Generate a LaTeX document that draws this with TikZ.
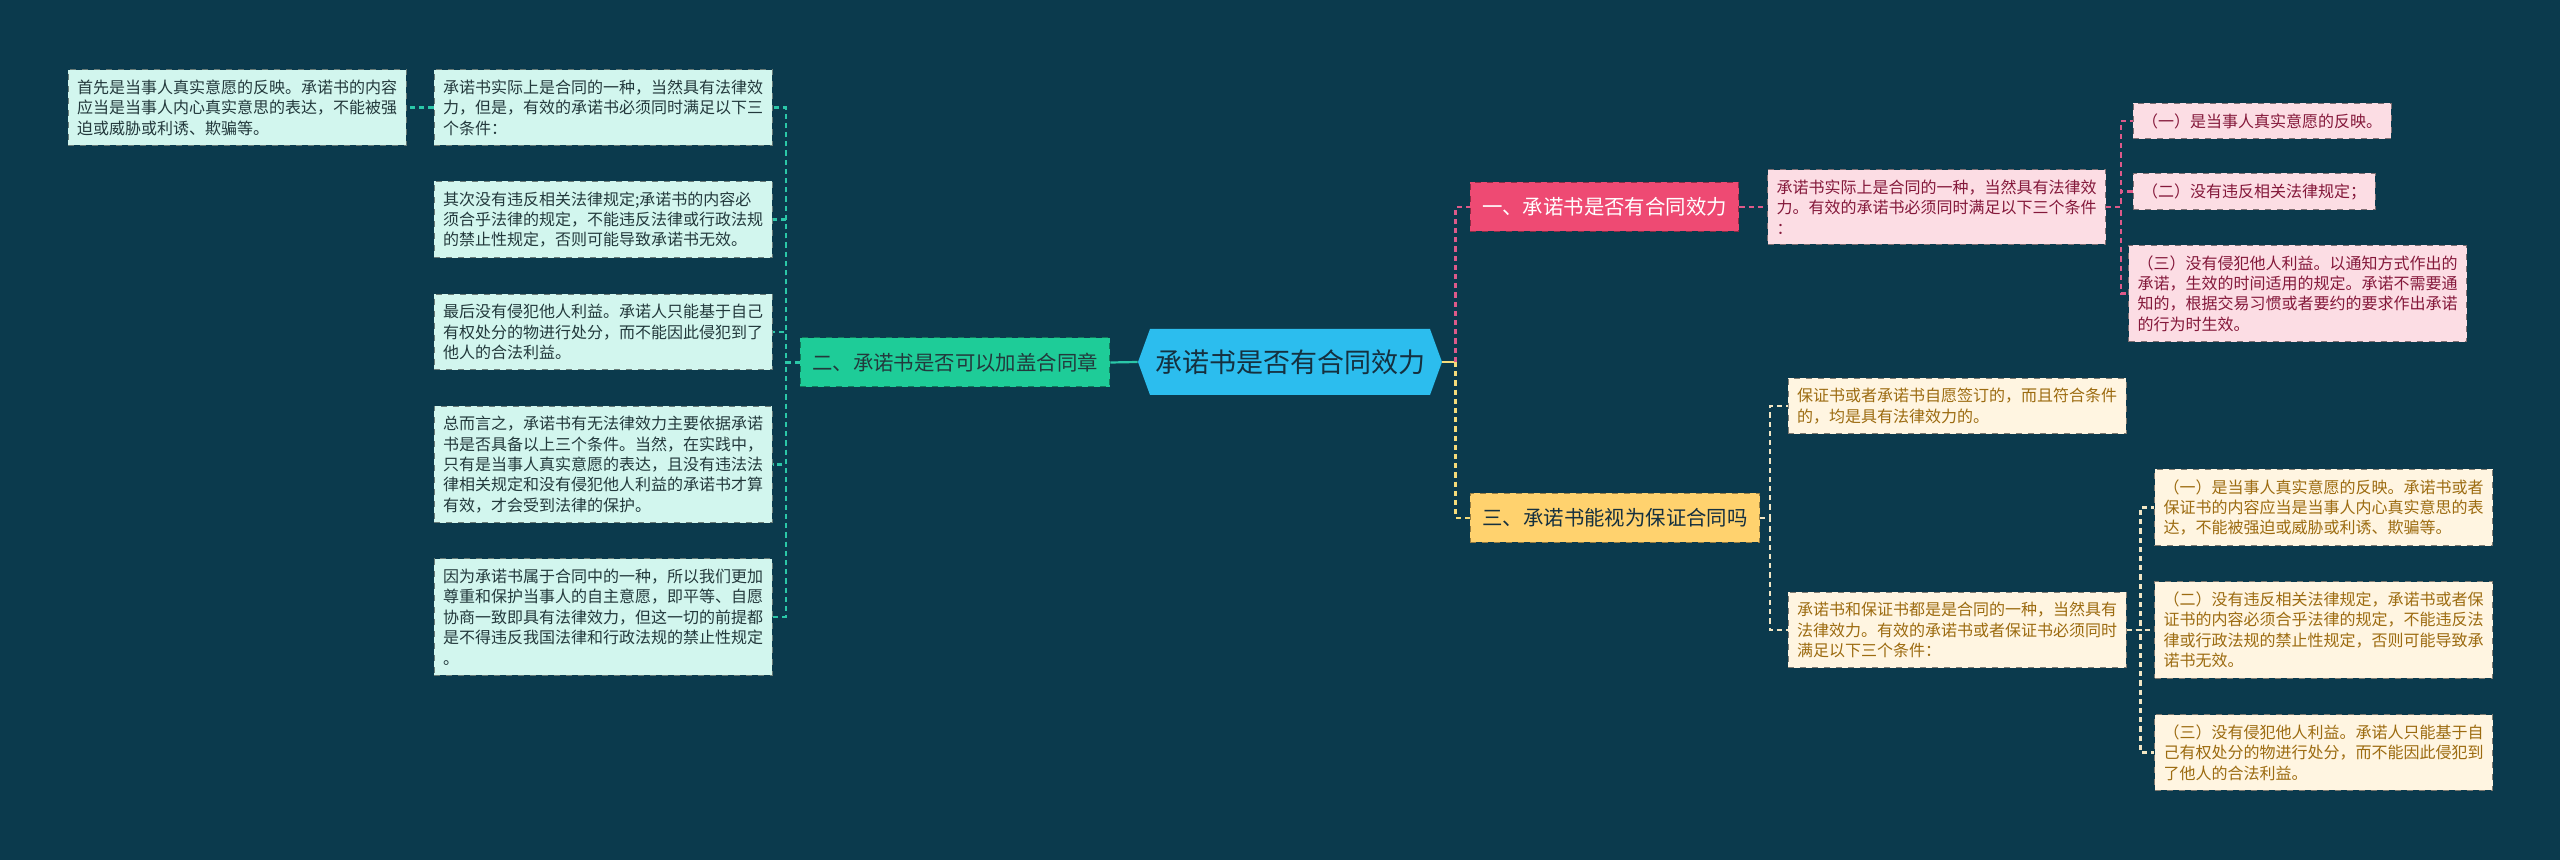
\documentclass[tikz,border=0pt]{standalone}
\usepackage{fontspec}
\setmainfont{Noto Sans CJK SC}
\usetikzlibrary{shapes.symbols}

\definecolor{bgsea}{HTML}{0B3A4D}
\definecolor{rootfill}{HTML}{2CBDEE}
\definecolor{rootink}{HTML}{15303F}
\definecolor{tealfill}{HTML}{1ECC98}
\definecolor{tealwire}{HTML}{2BC7A8}
\definecolor{mintfill}{HTML}{D2F6EE}
\definecolor{mintink}{HTML}{23393C}
\definecolor{rosefill}{HTML}{EE4A73}
\definecolor{rosewire}{HTML}{DE5A8A}
\definecolor{pinkfill}{HTML}{FCDDE4}
\definecolor{pinkink}{HTML}{84183A}
\definecolor{goldfill}{HTML}{FFD26E}
\definecolor{goldwire}{HTML}{F6DC7A}
\definecolor{creamfill}{HTML}{FFF5E1}
\definecolor{creamink}{HTML}{9C6B10}
\definecolor{creamwire}{HTML}{F2E6C4}

\tikzset{
  rootnode/.style={signal, signal to=west and east, signal pointer angle=140,
    fill=rootfill, text=rootink, inner sep=0pt,
    minimum width=152pt, minimum height=33pt, font=\fontsize{13.5}{16}\selectfont},
  branchbox/.style={dashed, line width=0.5pt, align=center, inner xsep=6pt,
    inner ysep=0pt, minimum height=24.5pt, font=\fontsize{10.2}{12}\selectfont},
  leafbox/.style={dashed, line width=0.5pt, align=left, inner xsep=4.5pt,
    inner ysep=5pt, font=\fontsize{8}{10.2}\selectfont},
  mintleaf/.style={leafbox, draw=mintfill!50!black, fill=mintfill, text=mintink},
  pinkleaf/.style={leafbox, draw=pinkfill!50!black, fill=pinkfill, text=pinkink},
  creamleaf/.style={leafbox, draw=creamfill!50!black, fill=creamfill, text=creamink},
  wire/.style={line width=1.1pt, dash pattern=on 2.6pt off 2pt},
}

\begin{document}
\begin{tikzpicture}[x=0.5pt, y=-0.5pt]
  \fill[bgsea] (0,0) rectangle (2560,860);
  \useasboundingbox (0,0) rectangle (2560,860);

  % centre
  \node[rootnode] (root) at (1290,362) {承诺书是否有合同效力};

  % left side
  \node[branchbox, draw=tealfill!60!black, fill=tealfill, text=mintink] (seal) at (955,362.5) {二、承诺书是否可以加盖合同章};
  \node[mintleaf] (sealA) at (603,107.5) {承诺书实际上是合同的一种，当然具有法律效\\力，但是，有效的承诺书必须同时满足以下三\\个条件：};
  \node[mintleaf] (sealAx) at (237,107.5) {首先是当事人真实意愿的反映。承诺书的内容\\应当是当事人内心真实意思的表达，不能被强\\迫或威胁或利诱、欺骗等。};
  \node[mintleaf] (sealB) at (603,219.5) {其次没有违反相关法律规定;承诺书的内容必\\须合乎法律的规定，不能违反法律或行政法规\\的禁止性规定，否则可能导致承诺书无效。};
  \node[mintleaf] (sealC) at (603,332) {最后没有侵犯他人利益。承诺人只能基于自己\\有权处分的物进行处分，而不能因此侵犯到了\\他人的合法利益。};
  \node[mintleaf] (sealD) at (603,464.5) {总而言之，承诺书有无法律效力主要依据承诺\\书是否具备以上三个条件。当然，在实践中，\\只有是当事人真实意愿的表达，且没有违法法\\律相关规定和没有侵犯他人利益的承诺书才算\\有效，才会受到法律的保护。};
  \node[mintleaf] (sealE) at (603,617) {因为承诺书属于合同中的一种，所以我们更加\\尊重和保护当事人的自主意愿，即平等、自愿\\协商一致即具有法律效力，但这一切的前提都\\是不得违反我国法律和行政法规的禁止性规定\\。};

  % right side, upper
  \node[branchbox, draw=rosefill!60!black, fill=rosefill, text=white] (valid) at (1604.5,207) {一、承诺书是否有合同效力};
  \node[pinkleaf] (validA) at (1936.5,207) {承诺书实际上是合同的一种，当然具有法律效\\力。有效的承诺书必须同时满足以下三个条件\\：};
  \node[pinkleaf] (validB) at (2262,121) {（一）是当事人真实意愿的反映。};
  \node[pinkleaf] (validC) at (2254,191.5) {（二）没有违反相关法律规定；};
  \node[pinkleaf] (validD) at (2297.5,293.5) {（三）没有侵犯他人利益。以通知方式作出的\\承诺，生效的时间适用的规定。承诺不需要通\\知的，根据交易习惯或者要约的要求作出承诺\\的行为时生效。};

  % right side, lower
  \node[branchbox, draw=goldfill!60!black, fill=goldfill, text=rootink] (bond) at (1615,518) {三、承诺书能视为保证合同吗};
  \node[creamleaf] (bondA) at (1957,406) {保证书或者承诺书自愿签订的，而且符合条件\\的，均是具有法律效力的。};
  \node[creamleaf] (bondB) at (1957,630) {承诺书和保证书都是是合同的一种，当然具有\\法律效力。有效的承诺书或者保证书必须同时\\满足以下三个条件：};
  \node[creamleaf] (bondC) at (2323.5,507.5) {（一）是当事人真实意愿的反映。承诺书或者\\保证书的内容应当是当事人内心真实意思的表\\达，不能被强迫或威胁或利诱、欺骗等。};
  \node[creamleaf] (bondD) at (2323.5,630) {（二）没有违反相关法律规定，承诺书或者保\\证书的内容必须合乎法律的规定，不能违反法\\律或行政法规的禁止性规定，否则可能导致承\\诺书无效。};
  \node[creamleaf] (bondE) at (2323.5,752.5) {（三）没有侵犯他人利益。承诺人只能基于自\\己有权处分的物进行处分，而不能因此侵犯到\\了他人的合法利益。};

  % connectors
  \draw[tealwire, line width=1.1pt] (root.west) -- (seal.east);
  \foreach \leaf in {sealA,sealB,sealC,sealD,sealE}
    \draw[wire, tealwire] (seal.west) -- +(-14,0) |- (\leaf.east);
  \draw[wire, tealwire] (sealA.west) -- (sealAx.east);

  \draw[goldwire, line width=1.1pt] (root.east) -- +(13,0);
  \draw[wire, rosewire] (root.east) ++(13,0) |- (valid.west);
  \draw[wire, goldwire] (root.east) ++(13,0) |- (bond.west);

  \draw[wire, rosewire] (valid.east) -- (validA.west);
  \foreach \leaf in {validB,validC,validD}
    \draw[wire, rosewire] (validA.east) -- +(15,0) |- (\leaf.west);

  \foreach \leaf in {bondA,bondB}
    \draw[wire, creamwire] (bond.east) -- +(10,0) |- (\leaf.west);
  \foreach \leaf in {bondC,bondD,bondE}
    \draw[wire, creamwire] (bondB.east) -- +(14,0) |- (\leaf.west);
\end{tikzpicture}
\end{document}
